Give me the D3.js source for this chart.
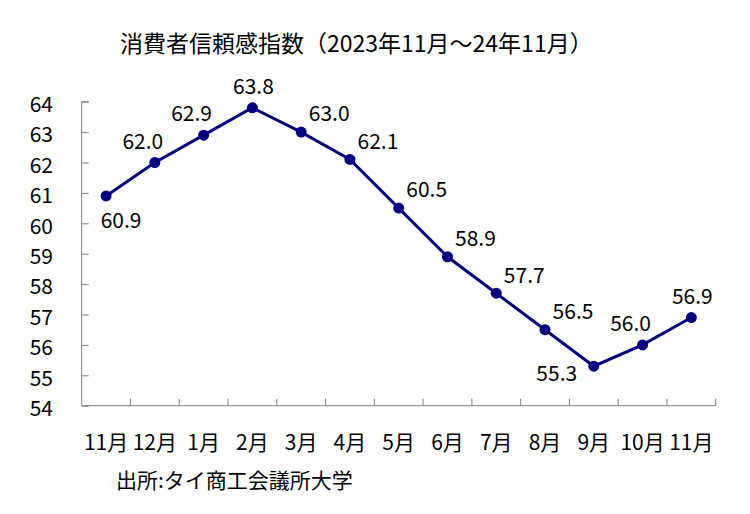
<!DOCTYPE html>
<html>
<head>
<meta charset="UTF-8">
<title>消費者信頼感指数</title>
<script src="https://d3js.org/d3.v7.min.js"></script>
<style>
body { margin: 0; background: #fff; }
text { font-family: "Noto Sans CJK JP", "Noto Sans", sans-serif; fill: #000; }
</style>
</head>
<body>
<svg id="chart" width="750" height="514"></svg>
<script>
var months = ["11月", "12月", "1月", "2月", "3月", "4月", "5月", "6月", "7月", "8月", "9月", "10月", "11月"];
var values = [60.9, 62.0, 62.9, 63.8, 63.0, 62.1, 60.5, 58.9, 57.7, 56.5, 55.3, 56.0, 56.9];
var yTicks = [54, 55, 56, 57, 58, 59, 60, 61, 62, 63, 64];
var labelPos = ["below", "aboveLeft", "aboveLeft", "above", "aboveRight", "aboveRight", "aboveRight",
	"aboveRight", "aboveRight", "aboveRight", "left", "aboveLeft", "above"];

var offsets = {
	below: [15, 25], above: [1, -21], aboveLeft: [-12, -21], aboveRight: [28, -18], left: [-37, 7]
};

var svg = d3.select("#chart");
var plotL = 81.7, plotR = 715.7, plotT = 101.7, plotB = 405.7;

var x = d3.scaleBand().domain(d3.range(months.length)).range([plotL, plotR]);
var y = d3.scaleLinear().domain([54, 64]).range([plotB, plotT]);

svg.append("text").attr("x", 120).attr("y", 52).attr("font-size", 23)
	.text("消費者信頼感指数（2023年11月～24年11月）");

// y axis
var yAxis = svg.append("g").attr("transform", "translate(" + plotL + ",0)")
	.call(d3.axisRight(y).tickValues(yTicks).tickSize(7).tickFormat(""));
yAxis.select(".domain").attr("d", "M0," + plotB + "V" + plotT + "H7");
yAxis.selectAll("line, path").attr("stroke", "#808080");
svg.append("g").selectAll("text").data(yTicks).join("text")
	.attr("x", 53).attr("y", function(d) { return y(d) + 3; })
	.attr("dy", "0.35em").attr("text-anchor", "end").attr("font-size", 21)
	.text(function(d) { return d; });

// x axis, ticks on the band edges
var edges = d3.range(months.length + 1).map(function(i) { return plotL + i * x.step(); });
var xg = svg.append("g");
xg.append("line").attr("x1", plotL).attr("x2", plotR).attr("y1", plotB).attr("y2", plotB)
	.attr("stroke", "#808080");
xg.selectAll(".tk").data(edges.slice(1)).join("line").attr("class", "tk")
	.attr("x1", function(d) { return d; }).attr("x2", function(d) { return d; })
	.attr("y1", plotB).attr("y2", plotB - 7).attr("stroke", "#808080");
xg.selectAll("text").data(months).join("text")
	.attr("x", function(d, i) { return x(i) + x.bandwidth() / 2; })
	.attr("y", 450).attr("text-anchor", "middle").attr("font-size", 21)
	.text(function(d) { return d; });

var cx = function(d, i) { return x(i) + x.bandwidth() / 2; };

svg.append("path").datum(values)
	.attr("d", d3.line().x(cx).y(function(d) { return y(d); }))
	.attr("fill", "none").attr("stroke", "#000080").attr("stroke-width", 3);

svg.append("g").selectAll("circle").data(values).join("circle")
	.attr("cx", cx).attr("cy", function(d) { return y(d); }).attr("r", 5.5)
	.attr("fill", "#000080");

svg.append("g").selectAll("text").data(values).join("text")
	.attr("x", function(d, i) { return cx(d, i) + offsets[labelPos[i]][0]; })
	.attr("y", function(d, i) { return y(d) + offsets[labelPos[i]][1]; })
	.attr("dy", "0.35em").attr("text-anchor", "middle").attr("font-size", 21)
	.text(function(d) { return d.toFixed(1); });

svg.append("text").attr("x", 116).attr("y", 488).attr("font-size", 21)
	.text("出所:タイ商工会議所大学");
</script>
</body>
</html>
